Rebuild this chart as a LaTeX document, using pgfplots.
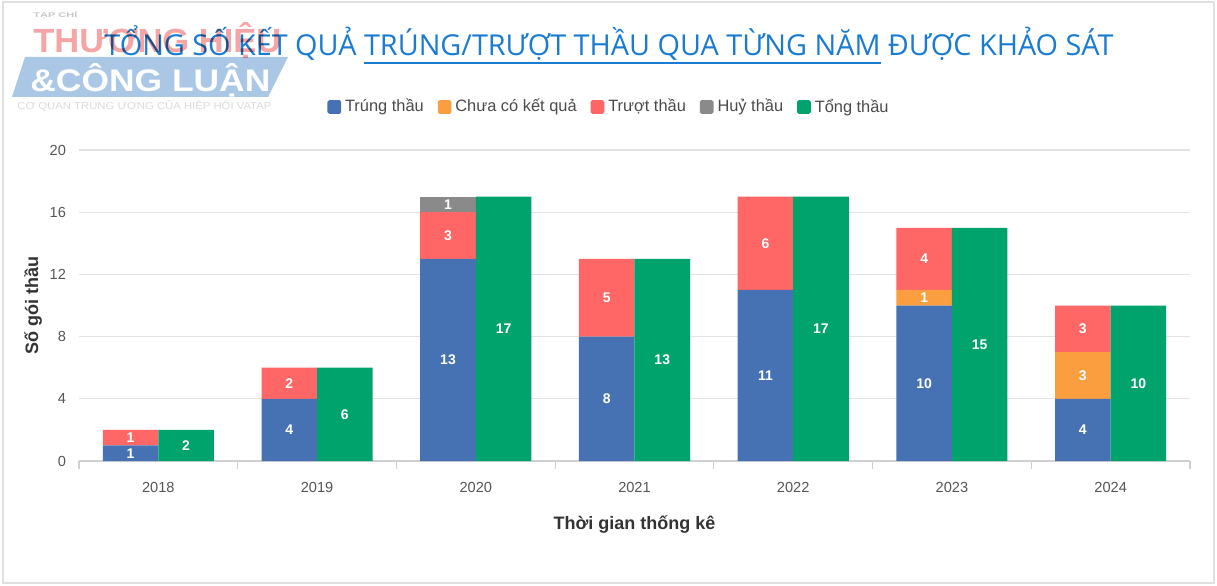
\documentclass[border=0pt]{standalone}
\usepackage{pgfplots}
\pgfplotsset{compat=1.18}
\usepackage{fontspec}
\setmainfont{Liberation Sans}
\newfontfamily\titlefont{Open Sans}
\definecolor{cBlue}{HTML}{4672B4}
\definecolor{cOrange}{HTML}{FB9E3F}
\definecolor{cRed}{HTML}{FF6666}
\definecolor{cGray}{HTML}{8A8A8A}
\definecolor{cGreen}{HTML}{00A36C}
\definecolor{cTitle}{HTML}{1A7BD2}
\definecolor{cGrid}{HTML}{E3E3E3}
\definecolor{cAxis}{HTML}{D0D0D0}
\definecolor{cTick}{HTML}{555555}
\definecolor{cLabel}{HTML}{333333}
\definecolor{cLegend}{HTML}{4A4A4A}
\definecolor{wmPink}{RGB}{245,165,165}
\definecolor{wmBlue}{RGB}{170,200,230}

\pgfplotstableread{
x trung chua truot huy tong
0 1 0 1 0 2
1 4 0 2 0 6
2 13 0 3 1 17
3 8 0 5 0 13
4 11 0 6 0 17
5 10 1 4 0 15
6 4 3 3 0 10
}\datatable

\newsavebox\ulbox
\newcommand\ulx[1]{\sbox\ulbox{#1}\rlap{\rule[-4pt]{\wd\ulbox}{1.1pt}}\usebox\ulbox}

\pgfplotsset{
  calc half/.code={%
    \pgfkeys{/pgf/fpu=true,/pgf/fpu/output format=fixed}%
    \pgfmathsetmacro\halfoffset{\pgfplotspointmeta*#1}%
    \pgfkeys{/pgf/fpu=false}%
  },
  centered labels/.style={
    nodes near coords={\pgfmathprintnumber[assume math mode=true]{\pgfplotspointmeta}},
    every node near coord/.append style={
      check for zero/.code={\pgfmathfloatifflags{\pgfplotspointmeta}{0}{\pgfkeys{/tikz/coordinate}}{}},
      check for zero,
      /pgfplots/calc half=#1,
      anchor=center, yshift=-\halfoffset,
      font=\fontsize{7}{8}\selectfont\bfseries, text=white
    },
  },
  sq legend/.style={legend image code/.code={\fill[##1,draw=none,rounded corners=0.8pt] (0pt,-3.4pt) rectangle (6.8pt,3.4pt);}},
}

\begin{document}
\begin{tikzpicture}[x=1pt,y=1pt]
\fill[white] (0,0) rectangle (608.5,292.5);
\draw[black!12, line width=1pt] (1.5,1) rectangle (607,291.5);

\begin{axis}[
  at={(39.5pt,62pt)}, anchor=south west,
  scale only axis, width=555.5pt, height=155.5pt,
  xmin=-0.5, xmax=6.5, ymin=0, ymax=20,
  /pgf/number format/assume math mode=true,
  xtick={0,...,6}, xticklabels={2018,2019,2020,2021,2022,2023,2024},
  minor xtick={-0.5,0.5,...,6.5},
  ytick={0,4,...,20},
  major tick length=0pt, minor tick length=4pt, tick align=outside,
  minor tick style={cAxis, line width=0.6pt},
  ymajorgrids, major grid style={cGrid, line width=0.6pt},
  axis x line*=bottom, axis y line*=left,
  x axis line style={cAxis, line width=0.8pt, -},
  y axis line style={draw=none},
  ticklabel style={font=\fontsize{7.3}{8}\selectfont, text=cTick},
  xticklabel style={yshift=-7pt},
  yticklabel style={xshift=-3pt},
  xlabel={Thời gian thống kê}, ylabel={Số gói thầu},
  xlabel style={at={(axis description cs:0.5,-0.2026)}, anchor=center, font=\fontsize{9}{10}\selectfont\bfseries, text=cLabel},
  ylabel style={at={(axis description cs:-0.0414,0.5)}, anchor=center, font=\fontsize{9}{10}\selectfont\bfseries, text=cLabel},
  ybar stacked, bar width=0.35, bar shift=-0.175,
  centered labels=0,
  clip=false,
]
\addplot[fill=cBlue, draw=none] table[x=x, y=trung] {\datatable};
\addplot[fill=cOrange, draw=none] table[x=x, y=chua] {\datatable};
\addplot[fill=cRed, draw=none] table[x=x, y=truot] {\datatable};
\addplot[fill=cGray, draw=none] table[x=x, y=huy] {\datatable};
\end{axis}

\begin{axis}[
  at={(39.5pt,62pt)}, anchor=south west,
  scale only axis, width=555.5pt, height=155.5pt,
  xmin=-0.5, xmax=6.5, ymin=0, ymax=20,
  /pgf/number format/assume math mode=true,
  axis lines=none,
  ybar, bar width=0.35, bar shift=0.175,
  centered labels=3.8875,
  clip=false,
  legend columns=-1,
  legend style={at={(0.478,1)}, anchor=center, yshift=21.5pt, draw=none, fill=none,
    font=\fontsize{8.2}{9}\selectfont, text=cLegend,
    /tikz/every even column/.append style={column sep=5pt}},
]
\addlegendimage{fill=cBlue, sq legend}\addlegendentry{Trúng thầu}
\addlegendimage{fill=cOrange, sq legend}\addlegendentry{Chưa có kết quả}
\addlegendimage{fill=cRed, sq legend}\addlegendentry{Trượt thầu}
\addlegendimage{fill=cGray, sq legend}\addlegendentry{Huỷ thầu}
\addplot[fill=cGreen, draw=none, sq legend] table[x=x, y=tong] {\datatable};
\addlegendentry{Tổng thầu}
\end{axis}

% title
\node[anchor=base, text=cTitle, font=\titlefont\fontsize{14.4}{17}\selectfont, inner sep=0pt]
  at (304.5,264.5) {TỔNG SỐ KẾT QUẢ \ulx{TRÚNG/TRƯỢT THẦU QUA TỪNG NĂM} ĐƯỢC KHẢO SÁT};

% watermark logo
\node[anchor=base west, inner sep=0pt, text=black!22, font=\bfseries] at (16.5,283.5) {\resizebox{22pt}{3pt}{TẠP CHÍ}};
\fill[wmBlue] (6,244) -- (12.5,264) -- (144,264) -- (134,244) -- cycle;
\node[anchor=base west, inner sep=0pt, text=white] at (15,246.5) {\resizebox{120pt}{14pt}{\bfseries \&CÔNG LUẬN}};
\node[anchor=base west, inner sep=0pt, text=black!14] at (8.5,237.5) {\resizebox{127pt}{4.5pt}{CƠ QUAN TRUNG ƯƠNG CỦA HIỆP HỘI VATAP}};
\begin{scope}[blend mode=multiply]
\node[anchor=base west, inner sep=0pt, text=wmPink] at (16.5,266) {\resizebox{124pt}{15pt}{\bfseries THƯƠNG HIỆU}};
\end{scope}
\end{tikzpicture}
\end{document}
